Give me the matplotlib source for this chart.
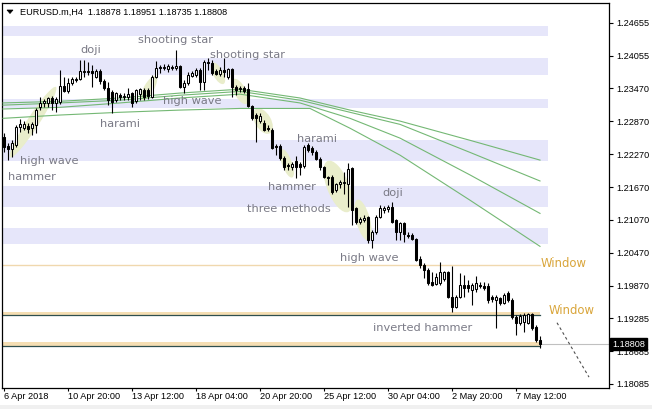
import matplotlib
matplotlib.use("Agg")
import matplotlib.pyplot as plt
from matplotlib.patches import Ellipse, Rectangle, Polygon
from matplotlib.transforms import ScaledTranslation, blended_transform_factory
import numpy as np

# ---------------- data ----------------
opens = [1.2258, 1.2241, 1.2236, 1.2243, 1.2276, 1.2274, 1.2278, 1.2274, 1.2280, 1.2312,
         1.2320, 1.2320, 1.2329, 1.2320, 1.2321, 1.2350, 1.2341, 1.2356, 1.2361, 1.2363,
         1.2376, 1.2376, 1.2378, 1.2367, 1.2378, 1.2360, 1.2347, 1.2340, 1.2325, 1.2334,
         1.2330, 1.2330, 1.2338, 1.2323, 1.2336, 1.2343, 1.2343, 1.2330, 1.2367, 1.2385,
         1.2383, 1.2381, 1.2385, 1.2383, 1.2387, 1.2349, 1.2356, 1.2369, 1.2370, 1.2380,
         1.2358, 1.2394, 1.2392, 1.2378, 1.2372, 1.2380, 1.2367, 1.2381, 1.2349, 1.2345,
         1.2347, 1.2345, 1.2314, 1.2298, 1.2287, 1.2283, 1.2274, 1.2270, 1.2241, 1.2241,
         1.2219, 1.2207, 1.2203, 1.2214, 1.2209, 1.2205, 1.2243, 1.2238, 1.2230, 1.2218,
         1.2203, 1.2185, 1.2185, 1.2161, 1.2172, 1.2174, 1.2172, 1.2201, 1.2128, 1.2103,
         1.2107, 1.2112, 1.2070, 1.2085, 1.2112, 1.2125, 1.2127, 1.2130, 1.2107, 1.2085,
         1.2101, 1.2079, 1.2079, 1.2072, 1.2036, 1.2025, 1.2016, 1.1994, 1.1990, 1.1992,
         1.1999, 1.2012, 1.1966, 1.1948, 1.1966, 1.1988, 1.1988, 1.1979, 1.1981, 1.1988,
         1.1986, 1.1986, 1.1966, 1.1961, 1.1965, 1.1956, 1.1974, 1.1961, 1.1930, 1.1919,
         1.1921, 1.1919, 1.1936, 1.1912, 1.18878]
highs = [1.2265, 1.2247, 1.2252, 1.2280, 1.2290, 1.2287, 1.2283, 1.2285, 1.2310, 1.2330,
         1.2327, 1.2330, 1.2332, 1.2330, 1.2380, 1.2367, 1.2365, 1.2367, 1.2367, 1.2398,
         1.2398, 1.2394, 1.2389, 1.2381, 1.2381, 1.2363, 1.2358, 1.2343, 1.2340, 1.2338,
         1.2338, 1.2347, 1.2340, 1.2345, 1.2347, 1.2347, 1.2347, 1.2370, 1.2396, 1.2389,
         1.2391, 1.2391, 1.2389, 1.2416, 1.2389, 1.2361, 1.2376, 1.2378, 1.2383, 1.2383,
         1.2398, 1.2401, 1.2398, 1.2381, 1.2385, 1.2401, 1.2383, 1.2383, 1.2352, 1.2350,
         1.2350, 1.2356, 1.2316, 1.2301, 1.2301, 1.2289, 1.2280, 1.2274, 1.2245, 1.2245,
         1.2223, 1.2210, 1.2212, 1.2223, 1.2212, 1.2243, 1.2247, 1.2241, 1.2234, 1.2221,
         1.2205, 1.2187, 1.2189, 1.2174, 1.2179, 1.2194, 1.2210, 1.2203, 1.2130, 1.2112,
         1.2116, 1.2114, 1.2088, 1.2116, 1.2134, 1.2132, 1.2134, 1.2139, 1.2108, 1.2103,
         1.2103, 1.2085, 1.2083, 1.2074, 1.2041, 1.2028, 1.2019, 1.2012, 1.2010, 1.2030,
         1.2014, 1.2014, 1.2023, 1.1970, 1.2010, 1.2007, 1.1997, 1.1992, 1.2005, 1.1994,
         1.1994, 1.1992, 1.1970, 1.1970, 1.1966, 1.1974, 1.1977, 1.1965, 1.1934, 1.1936,
         1.1937, 1.1937, 1.1937, 1.1916, 1.18951]
lows = [1.2230, 1.2216, 1.2221, 1.2239, 1.2267, 1.2270, 1.2265, 1.2261, 1.2265, 1.2307,
        1.2312, 1.2312, 1.2307, 1.2303, 1.2318, 1.2340, 1.2338, 1.2352, 1.2358, 1.2361,
        1.2367, 1.2370, 1.2349, 1.2365, 1.2354, 1.2343, 1.2316, 1.2301, 1.2321, 1.2325,
        1.2325, 1.2325, 1.2312, 1.2320, 1.2325, 1.2325, 1.2327, 1.2329, 1.2365, 1.2374,
        1.2380, 1.2376, 1.2380, 1.2380, 1.2347, 1.2338, 1.2352, 1.2367, 1.2367, 1.2343,
        1.2343, 1.2380, 1.2370, 1.2370, 1.2369, 1.2367, 1.2363, 1.2330, 1.2334, 1.2340,
        1.2338, 1.2312, 1.2289, 1.2249, 1.2283, 1.2269, 1.2269, 1.2236, 1.2225, 1.2216,
        1.2198, 1.2198, 1.2198, 1.2183, 1.2189, 1.2201, 1.2230, 1.2225, 1.2216, 1.2198,
        1.2183, 1.2170, 1.2154, 1.2158, 1.2165, 1.2154, 1.2130, 1.2098, 1.2099, 1.2099,
        1.2103, 1.2065, 1.2056, 1.2081, 1.2110, 1.2119, 1.2121, 1.2101, 1.2070, 1.2070,
        1.2067, 1.2074, 1.2070, 1.2032, 1.2019, 1.2001, 1.1988, 1.1986, 1.1988, 1.1988,
        1.1996, 1.1965, 1.1939, 1.1946, 1.1965, 1.1966, 1.1976, 1.1952, 1.1976, 1.1983,
        1.1979, 1.1956, 1.1957, 1.1910, 1.1952, 1.1954, 1.1957, 1.1926, 1.1897, 1.1916,
        1.1903, 1.1917, 1.1906, 1.1885, 1.18735]
closes = [1.2239, 1.2236, 1.2247, 1.2276, 1.2281, 1.2281, 1.2272, 1.2281, 1.2307, 1.2320,
          1.2323, 1.2329, 1.2320, 1.2327, 1.2350, 1.2341, 1.2356, 1.2363, 1.2363, 1.2378,
          1.2378, 1.2378, 1.2374, 1.2378, 1.2360, 1.2347, 1.2325, 1.2321, 1.2338, 1.2330,
          1.2332, 1.2336, 1.2320, 1.2343, 1.2345, 1.2330, 1.2332, 1.2367, 1.2383, 1.2383,
          1.2385, 1.2387, 1.2383, 1.2387, 1.2349, 1.2356, 1.2370, 1.2374, 1.2380, 1.2358,
          1.2394, 1.2392, 1.2374, 1.2372, 1.2380, 1.2376, 1.2381, 1.2349, 1.2343, 1.2347,
          1.2341, 1.2314, 1.2292, 1.2292, 1.2296, 1.2270, 1.2272, 1.2238, 1.2239, 1.2219,
          1.2203, 1.2205, 1.2209, 1.2203, 1.2203, 1.2239, 1.2234, 1.2230, 1.2218, 1.2203,
          1.2185, 1.2183, 1.2158, 1.2172, 1.2176, 1.2176, 1.2199, 1.2125, 1.2103, 1.2108,
          1.2110, 1.2070, 1.2085, 1.2112, 1.2128, 1.2128, 1.2130, 1.2103, 1.2085, 1.2101,
          1.2081, 1.2077, 1.2072, 1.2034, 1.2025, 1.2016, 1.1992, 1.1988, 1.2003, 1.2012,
          1.2012, 1.1966, 1.1948, 1.1966, 1.1988, 1.1984, 1.1983, 1.1988, 1.1992, 1.1986,
          1.1984, 1.1961, 1.1963, 1.1966, 1.1956, 1.1970, 1.1961, 1.1930, 1.1919, 1.1932,
          1.1934, 1.1936, 1.1910, 1.1888, 1.18808]

# moving averages (read as points along each line)
ma_x = [-0.25, 14, 29, 44, 59, 74, 86.5, 99, 116.5, 134]
ma1 = [1.2320, 1.2323, 1.2329, 1.2338, 1.2345, 1.2329, 1.2307, 1.2287, 1.2252, 1.2216]
ma2 = [1.2316, 1.2320, 1.2325, 1.2334, 1.2341, 1.2325, 1.2303, 1.2281, 1.2230, 1.2178]
ma3 = [1.2309, 1.2312, 1.2320, 1.2329, 1.2336, 1.2320, 1.2292, 1.2256, 1.2189, 1.2119]
ma4_x = [-0.25, 14, 29, 44, 59, 76.5, 86.5, 99, 116.5, 134]
ma4 = [1.2292, 1.2298, 1.2303, 1.2307, 1.2310, 1.2310, 1.2274, 1.2225, 1.2143, 1.2059]

# lavender bands (low, high)
band_lo = [1.2441, 1.2370, 1.2310, 1.2214, 1.2130, 1.2063]
band_hi = [1.2460, 1.2401, 1.2327, 1.2252, 1.2169, 1.2092]

# window levels
window_line = 1.2025
window_band1 = (1.1934, 1.1940)
window_band2 = (1.1877, 1.1885)
bid = 1.18808

# projection
proj_x = [138.25, 146.25]
proj_y = [1.1920, 1.1821]

# pattern highlight ellipses: centre (bar, price), size in px, angle
ell_x = [7.25, 36.25, 53.5, 59.0, 64.75, 70.75, 83.5, 89.75]
ell_y = [1.2285, 1.2347, 1.2374, 1.2341, 1.2287, 1.2210, 1.2168, 1.2107]
ell_len = [84, 28, 24, 28, 28, 30, 55, 42]
ell_wid = [12, 10, 10, 12, 16, 10, 22, 14]
ell_ang = [57, 60, -62, -62, -60, -70, -68, -75]

# annotations
ann_text = ["doji", "shooting star", "shooting star", "high wave", "harami",
            "high wave", "hammer", "harami", "hammer", "three methods", "doji",
            "high wave", "inverted hammer"]
ann_x = [19, 33.5, 51.5, 39.75, 24, 4, 1, 73.25, 66, 60.75, 94.5, 84, 92.25]
ann_y = [1.2416, 1.2434, 1.2407, 1.2323, 1.2281, 1.2214, 1.2185, 1.2254, 1.2167,
         1.2127, 1.2156, 1.2037, 1.1910]
win_text = ["Window", "Window"]
win_x = [134.25, 136.25]
win_y = [1.2027, 1.1943]

y_ticks = [1.24655, 1.24055, 1.23470, 1.22870, 1.22270, 1.21670, 1.21070, 1.20470,
           1.19870, 1.19285, 1.18685, 1.18085]
x_ticks = [0, 16, 32, 48, 64, 80, 96, 112, 128]
x_labels = ["6 Apr 2018", "10 Apr 20:00", "13 Apr 12:00", "18 Apr 04:00", "20 Apr 20:00",
            "25 Apr 12:00", "30 Apr 04:00", "2 May 20:00", "7 May 12:00"]
title = "EURUSD.m,H4  1.18878 1.18951 1.18735 1.18808"

# ---------------- drawing ----------------
W, H = 652, 409
fig = plt.figure(figsize=(W / 100, H / 100), dpi=100)
fig.patch.set_facecolor("white")
ax = fig.add_axes([2 / W, 1 - 388 / H, 607 / W, 385 / H])
ax.set_facecolor("white")

XMIN, XMAX = -0.5, 151.25
YMIN, YMAX = 1.18012, 1.25019

band_end = 136
for lo, hi in zip(band_lo, band_hi):
    ax.add_patch(Rectangle((XMIN, lo), band_end - XMIN, hi - lo, facecolor="#E6E6FA",
                           edgecolor="none", zorder=0.5))

for cx, cy, L, Wd, a in zip(ell_x, ell_y, ell_len, ell_wid, ell_ang):
    tr = fig.dpi_scale_trans + ScaledTranslation(cx, cy, ax.transData)
    e = Ellipse((0, 0), L / 100, Wd / 100, angle=a, transform=tr,
                facecolor="#E9EDCB", edgecolor="none", zorder=1)
    ax.add_artist(e)

# bid line
ax.axhline(bid, color="#C0C0C0", lw=0.8, zorder=1.5)

# window objects
ax.plot([XMIN, 134], [window_line, window_line], color="#F0D8AE", lw=1.0, zorder=2)
for lo, hi in (window_band1, window_band2):
    ax.add_patch(Rectangle((XMIN, lo), 134 - XMIN, hi - lo, facecolor="#F5DEB3",
                           edgecolor="none", zorder=2))
    ax.plot([XMIN, 134], [lo, lo], color="#2F4F4F", lw=0.9, zorder=2.1)

# moving averages
for xs, ys in ((ma_x, ma1), (ma_x, ma2), (ma_x, ma3), (ma4_x, ma4)):
    ax.plot(xs, ys, color="#74B874", lw=0.8, zorder=3)

# candles
idx = np.arange(len(opens))
ax.vlines(idx, lows, highs, color="black", lw=0.8, zorder=4)
for i, (o, c) in enumerate(zip(opens, closes)):
    lo, hi = min(o, c), max(o, c)
    fc = "white" if c > o else "black"
    ax.add_patch(Rectangle((i - 0.27, lo), 0.54, max(hi - lo, 1e-6), facecolor=fc,
                           edgecolor="black", lw=0.75, zorder=5))

# projection dashed line
ax.plot(proj_x, proj_y, color="#505050", lw=0.8, ls=(0, (2.5, 2.5)), zorder=3)

# annotations
for t, x, y in zip(ann_text, ann_x, ann_y):
    ax.text(x, y, t, ha="left", va="center", fontsize=8.2, color="#7A7A86",
            family="DejaVu Sans", zorder=6)
for t, x, y in zip(win_text, win_x, win_y):
    ax.text(x, y, t, ha="left", va="center", fontsize=8.4, color="#D9A53A",
            family="DejaVu Sans", zorder=6, clip_on=False)

ax.set_xlim(XMIN, XMAX)
ax.set_ylim(YMIN, YMAX)

# axes styling
for s in ax.spines.values():
    s.set_color("black")
    s.set_linewidth(0.9)
ax.yaxis.tick_right()
ax.set_yticks(y_ticks)
ax.set_yticklabels([f"{v:.5f}" for v in y_ticks])
ax.set_xticks(x_ticks)
ax.set_xticklabels(x_labels)
for lab in ax.get_xticklabels():
    lab.set_ha("left")
ax.tick_params(axis="y", length=3, width=0.8, pad=2, labelsize=6.6, colors="black")
ax.tick_params(axis="x", length=2.5, width=0.8, pad=0.5, labelsize=6.6, colors="black")
for lab in ax.get_xticklabels() + ax.get_yticklabels():
    lab.set_family("Liberation Sans")

# current price box
tb = blended_transform_factory(ax.transAxes, ax.transData)
ax.text(1.0 + 3 / 607, bid, f"{bid:.5f}", transform=tb, ha="left", va="center",
        fontsize=6.6, family="Liberation Sans", color="white", zorder=10, clip_on=False,
        bbox=dict(boxstyle="square,pad=0.18", facecolor="black", edgecolor="black"))

# title
fig.text(20 / W, 1 - 12 / H, title, ha="left", va="center", fontsize=6.6,
         family="Liberation Sans", color="black")
tri = Polygon([[7 / W, 1 - 10 / H], [13 / W, 1 - 10 / H], [10 / W, 1 - 13.5 / H]],
              closed=True, transform=fig.transFigure, facecolor="black", edgecolor="black",
              lw=0.5)
fig.add_artist(tri)

# bottom status strip
fig.add_artist(Rectangle((0, 0), 1, 4 / H, transform=fig.transFigure,
                         facecolor="#F0F0F0", edgecolor="none"))

fig.savefig("out.png", dpi=100, facecolor="white")
